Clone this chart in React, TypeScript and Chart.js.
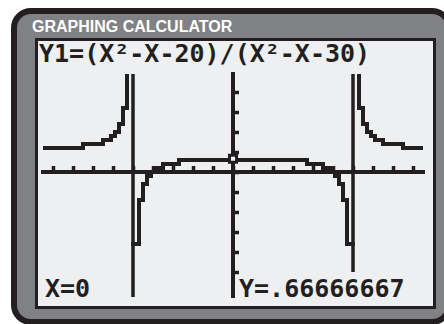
import React, { useEffect, useRef } from "react";
import { Chart, registerables } from "chart.js";

Chart.register(...registerables);

const titleText = "GRAPHING CALCULATOR";
const formulaText = "Y1=(X²-X-20)/(X²-X-30)";
const traceXText = "X=0";
const traceYText = "Y=.66666667";

// left branch (x < -5)
const leftX = [-9.4, -9.2, -9.0, -8.8, -8.6, -8.4, -8.2, -8.0, -7.8, -7.6, -7.4, -7.2, -7.0, -6.8, -6.6, -6.4, -6.2, -6.0, -5.8, -5.6, -5.4, -5.2];
const leftY = [1.2, 1.2, 1.2, 1.2, 1.2, 1.2, 1.2, 1.2, 1.2, 1.2, 1.4, 1.4, 1.4, 1.4, 1.4, 1.6, 1.6, 1.8, 2.0, 2.4, 3.2, 5.4];

// middle branch (-5 < x < 6)
const midX = [
  -5.0, -4.8, -4.6, -4.4, -4.2, -4.0, -3.8, -3.6, -3.4, -3.2, -3.0, -2.8,
  -2.6, -2.4, -2.2, -2.0, -1.8, -1.6, -1.4, -1.2, -1.0, -0.8, -0.6, -0.4, -0.2, 0.0,
  0.2, 0.4, 0.6, 0.8, 1.0, 1.2, 1.4, 1.6, 1.8, 2.0, 2.2, 2.4, 2.6, 2.8, 3.0, 3.2, 3.4, 3.6,
  3.8, 4.0, 4.2, 4.4, 4.6, 4.8, 5.0, 5.2, 5.4, 5.6, 5.8, 6.0,
];
const midY = [
  -3.6, -3.6, -1.4, -0.6, -0.2, 0, 0.2, 0.2, 0.4, 0.4, 0.4, 0.4,
  0.6, 0.6, 0.6, 0.6, 0.6, 0.6, 0.6, 0.6, 0.6, 0.6, 0.6, 0.6, 0.6, 0.6,
  0.6, 0.6, 0.6, 0.6, 0.6, 0.6, 0.6, 0.6, 0.6, 0.6, 0.6, 0.6, 0.6, 0.6, 0.6, 0.6, 0.6, 0.6,
  0.4, 0.4, 0.4, 0.4, 0.2, 0.2, 0, -0.2, -0.6, -1.4, -3.6, -3.6,
];

// right branch (x > 6)
const rightX = [6.2, 6.4, 6.6, 6.8, 7.0, 7.2, 7.4, 7.6, 7.8, 8.0, 8.2, 8.4, 8.6, 8.8, 9.0, 9.2, 9.4];
const rightY = [5.4, 3.2, 2.4, 2.0, 1.8, 1.6, 1.6, 1.4, 1.4, 1.4, 1.4, 1.4, 1.2, 1.2, 1.2, 1.2, 1.2];

// vertical asymptote jumps drawn in connected mode
const asymptoteX = [-5, 6];
const asymptoteTop = [50, 50];
const asymptoteBottom = [-50, -5];

// trace cursor
const traceX = [0];
const traceY = [0.6666667];

// window
const xMin = -9.5;
const xMax = 9.55;
const yMin = -6.25;
const yMax = 4.9;
const tickStep = 1;

const DARK = "#231f20";
const SCREEN = "#eeeff1";
const FRAME = "#808185";

const pts = (xs: number[], ys: number[]) => xs.map((x, i) => ({ x, y: ys[i] }));

export default function App() {
  const canvasRef = useRef<HTMLCanvasElement | null>(null);

  useEffect(() => {
    if (!canvasRef.current) return;
    const curveStyle = {
      showLine: true,
      stepped: "middle" as const,
      borderColor: DARK,
      borderWidth: 4,
      borderCapStyle: "square" as const,
      borderJoinStyle: "miter" as const,
      pointRadius: 0,
      clip: 0,
    };
    const asymptoteData: any[] = [];
    asymptoteX.forEach((x, i) => {
      if (i > 0) asymptoteData.push({ x: NaN, y: NaN });
      asymptoteData.push({ x, y: asymptoteTop[i] });
      asymptoteData.push({ x, y: asymptoteBottom[i] });
    });

    const chart = new Chart(canvasRef.current, {
      type: "scatter",
      data: {
        datasets: [
          {
            data: pts(traceX, traceY),
            pointStyle: "rect",
            pointRadius: 5,
            borderWidth: 3,
            borderColor: DARK,
            backgroundColor: SCREEN,
            showLine: false,
            clip: 0,
          } as any,
          { data: pts(leftX, leftY), ...curveStyle } as any,
          { data: pts(midX, midY), ...curveStyle } as any,
          { data: pts(rightX, rightY), ...curveStyle } as any,
          {
            data: asymptoteData,
            showLine: true,
            spanGaps: false,
            borderColor: DARK,
            borderWidth: 3.5,
            pointRadius: 0,
            clip: 0,
          } as any,
        ],
      },
      options: {
        animation: false,
        responsive: false,
        maintainAspectRatio: false,
        events: [],
        layout: { padding: { left: 43, top: 74, right: 20, bottom: 27 } },
        plugins: { legend: { display: false }, tooltip: { enabled: false } },
        scales: {
          x: {
            type: "linear",
            min: xMin,
            max: xMax,
            position: { y: 0 } as any,
            ticks: { display: false, stepSize: tickStep, includeBounds: false },
            grid: {
              drawOnChartArea: false,
              drawTicks: true,
              tickLength: -8,
              tickWidth: 3.5,
              tickColor: DARK,
            },
            border: { display: true, width: 4, color: DARK },
          },
          y: {
            type: "linear",
            min: yMin,
            max: yMax,
            position: { x: 0 } as any,
            ticks: { display: false, stepSize: tickStep, includeBounds: false },
            afterBuildTicks: (scale: any) => {
              scale.ticks = scale.ticks.filter((t: any) => t.value > yMin + 0.5);
            },
            grid: {
              drawOnChartArea: false,
              drawTicks: true,
              tickLength: -8,
              tickWidth: 3.5,
              tickColor: DARK,
            },
            border: { display: true, width: 4, color: DARK },
          },
        },
      } as any,
    });
    return () => chart.destroy();
  }, []);

  const pixelFont: React.CSSProperties = {
    position: "absolute",
    fontFamily: "'DejaVu Sans Mono', monospace",
    fontWeight: "bold",
    fontSize: 25,
    lineHeight: "25px",
    color: DARK,
    whiteSpace: "pre",
  };

  return (
    <div
      style={{
        position: "fixed",
        left: 0,
        top: 0,
        width: 444,
        height: 324,
        overflow: "hidden",
        background: "#ffffff",
      }}
    >
      <div
        style={{
          position: "absolute",
          left: 11,
          top: 8,
          width: 441,
          height: 317,
          boxSizing: "border-box",
          border: `6px solid ${DARK}`,
          borderRadius: 20,
          background: FRAME,
        }}
      />
      <div
        style={{
          position: "absolute",
          left: 32,
          top: 19,
          fontFamily: "'Liberation Sans', Arial, sans-serif",
          fontWeight: "bold",
          fontSize: 16,
          lineHeight: "16px",
          color: "#ffffff",
          whiteSpace: "pre",
        }}
      >
        {titleText}
      </div>
      <div
        style={{
          position: "absolute",
          left: 35,
          top: 38,
          width: 401,
          height: 271,
          boxSizing: "border-box",
          border: `3px solid ${DARK}`,
          background: SCREEN,
        }}
      />
      <div style={{ ...pixelFont, left: 39, top: 41 }}>{formulaText}</div>
      <div style={{ ...pixelFont, left: 45, top: 276 }}>{traceXText}</div>
      <div style={{ ...pixelFont, left: 239, top: 276 }}>{traceYText}</div>
      <canvas
        ref={canvasRef}
        width={444}
        height={324}
        style={{ position: "absolute", left: 0, top: 0, width: 444, height: 324 }}
      />
    </div>
  );
}
